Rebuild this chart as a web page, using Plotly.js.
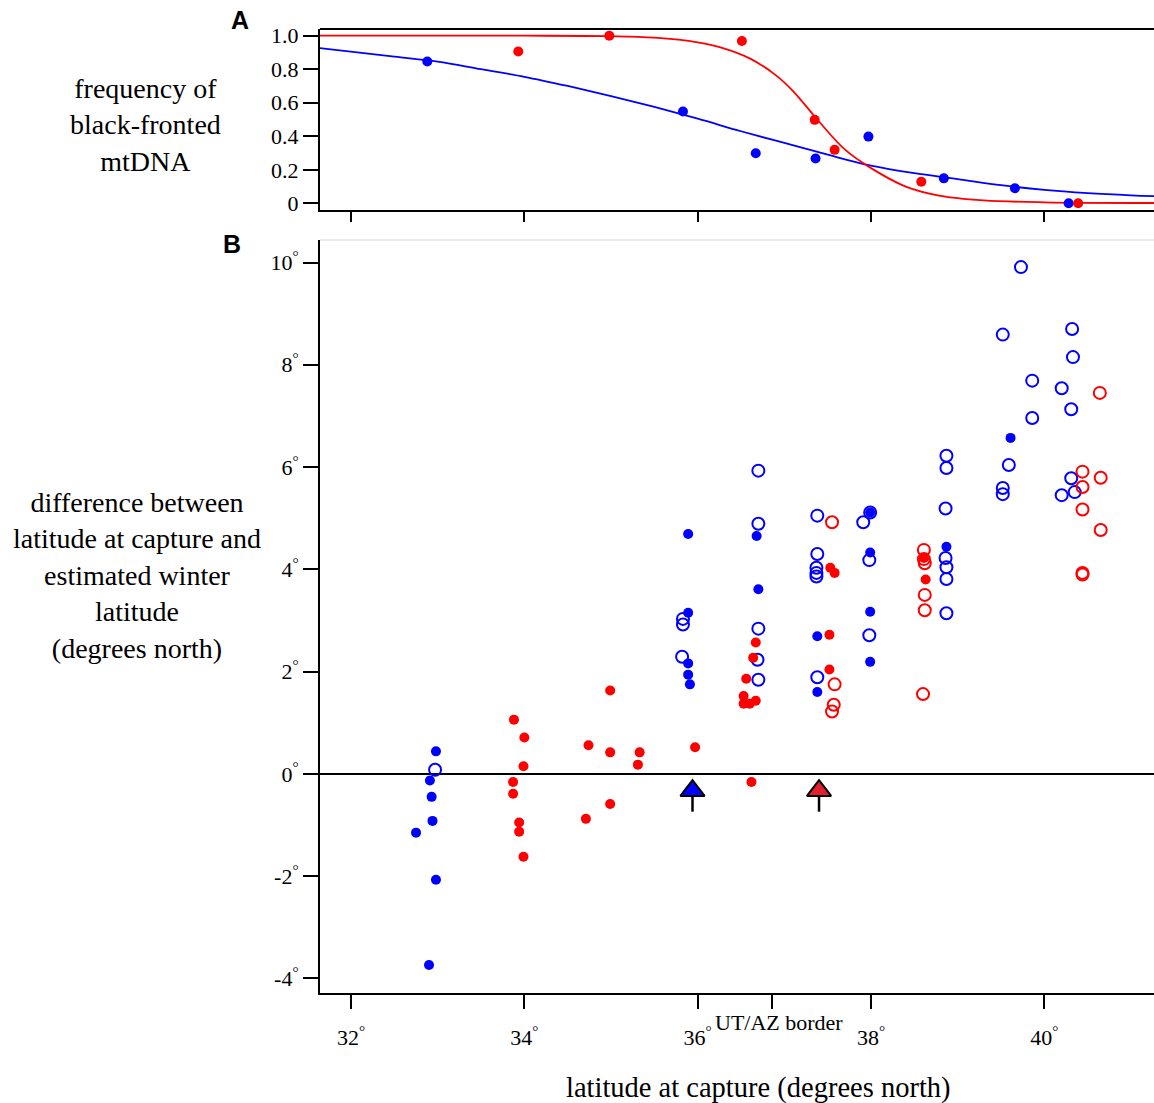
<!DOCTYPE html>
<html>
<head>
<meta charset="utf-8">
<script src="https://cdn.plot.ly/plotly-3.0.1.min.js"></script>
<style>body{margin:0;padding:0;background:#fff;} #chart{width:1154px;height:1103px;}</style>
</head>
<body>
<div id="chart"></div>
<script>
// ---------- Panel A: frequency of black-fronted mtDNA ----------
const blueFreqLat = [32.88, 35.83, 36.67, 37.36, 37.97, 38.84, 39.66, 40.28];
const blueFreq    = [0.846, 0.548, 0.299, 0.267, 0.398, 0.149, 0.090, 0.0];
const redFreqLat  = [33.93, 34.98, 36.51, 37.35, 37.58, 38.58, 40.39];
const redFreq     = [0.906, 1.0, 0.968, 0.498, 0.319, 0.129, 0.0];

// fitted clines
const blueClineLat = [31.64, 32.5, 33.0, 33.5, 34.0, 34.5, 35.0, 35.5, 36.0, 36.5, 37.0, 37.5, 38.0, 38.5, 39.0, 39.5, 40.0, 40.5, 41.0, 41.27];
const blueCline    = [0.926, 0.875, 0.845, 0.80, 0.755, 0.70, 0.64, 0.575, 0.505, 0.43, 0.36, 0.29, 0.225, 0.18, 0.145, 0.108, 0.08, 0.061, 0.048, 0.043];
const redClineLat  = [31.64, 33.0, 34.0, 35.0, 35.5, 36.0, 36.3, 36.6, 36.9, 37.1, 37.38, 37.7, 38.0, 38.4, 38.8, 39.3, 40.0, 41.27];
const redCline     = [1.0, 1.0, 1.0, 0.997, 0.988, 0.96, 0.925, 0.865, 0.765, 0.67, 0.50, 0.32, 0.21, 0.10, 0.045, 0.018, 0.006, 0.002];

// ---------- Panel B: difference between capture and winter latitude ----------
const blueFilledLat = [32.98, 32.91, 32.93, 32.94, 32.75, 32.98, 32.90, 35.89, 35.89, 35.89, 35.89, 35.91, 36.68, 36.70, 37.38, 37.38, 37.99, 37.99, 37.99, 37.99, 38.87, 39.61];
const blueFilledDev = [0.44, -0.13, -0.45, -0.92, -1.15, -2.07, -3.74, 4.69, 3.15, 2.16, 1.94, 1.75, 4.65, 3.61, 2.69, 1.60, 5.11, 4.33, 3.17, 2.19, 4.44, 6.57];

const blueOpenLat = [32.97, 35.83, 35.83, 35.82, 36.70, 36.70, 36.70, 36.69, 36.70, 37.38, 37.38, 37.37, 37.37, 37.37, 37.38, 37.91, 37.98, 37.98, 37.99,
                     38.87, 38.87, 38.86, 38.86, 38.87, 38.87, 38.87, 39.52, 39.73, 39.86, 39.86, 39.59, 39.52, 39.52, 40.32, 40.33, 40.20, 40.31, 40.31, 40.35, 40.20];
const blueOpenDev = [0.08, 3.03, 2.92, 2.29, 5.93, 4.89, 2.84, 2.23, 1.84, 5.05, 4.30, 4.03, 3.93, 3.86, 1.89, 4.92, 4.18, 2.71, 5.11,
                     6.22, 5.98, 5.19, 4.22, 4.04, 3.81, 3.14, 8.59, 9.91, 7.69, 6.96, 6.04, 5.59, 5.47, 8.70, 8.15, 7.54, 7.13, 5.78, 5.51, 5.45];

const redFilledLat = [33.88, 34.00, 33.99, 33.87, 33.87, 33.94, 33.94, 33.99, 34.74, 34.99, 34.99, 34.99, 34.71, 35.33, 35.31, 35.97,
                      36.67, 36.64, 36.56, 36.53, 36.53, 36.60, 36.67, 36.62, 37.52, 37.52, 37.53, 37.58, 38.61, 38.63];
const redFilledDev = [1.06, 0.71, 0.15, -0.16, -0.39, -0.95, -1.13, -1.62, 0.56, 1.63, 0.42, -0.59, -0.88, 0.42, 0.18, 0.52,
                      2.57, 2.27, 1.86, 1.52, 1.37, 1.37, 1.43, -0.16, 2.72, 2.04, 4.03, 3.93, 4.22, 3.80];

const redOpenLat = [37.55, 37.58, 37.57, 37.55, 38.61, 38.61, 38.62, 38.62, 38.62, 38.60, 40.64, 40.44, 40.65, 40.44, 40.44, 40.65, 40.44, 40.44];
const redOpenDev = [4.92, 1.75, 1.35, 1.22, 4.38, 4.20, 4.12, 3.50, 3.20, 1.56, 7.45, 5.91, 5.79, 5.61, 5.17, 4.77, 3.93, 3.90];

// cline centres marked by arrows
const arrowLat = [35.94, 37.40];
const arrowDev = [-0.33, -0.33];
const arrowStemTop = -0.45;
const arrowStemBottom = -0.74;
const arrowColors = ['#0000ff', '#e31e2d'];

// ticks
const xTickVals = [32, 34, 36, 36.86, 38, 40];
const xTickText = ['32<sup>°</sup>', '34<sup>°</sup>', '36<sup>°</sup>', '', '38<sup>°</sup>', '40<sup>°</sup>'];
const borderLat = 36.86;
const xTopTickVals = [32, 34, 36, 38, 40];
const yTickVals = [-4, -2, 0, 2, 4, 6, 8, 10];
const yTickText = ['-4<sup>°</sup>', '-2<sup>°</sup>', '0<sup>°</sup>', '2<sup>°</sup>', '4<sup>°</sup>', '6<sup>°</sup>', '8<sup>°</sup>', '10<sup>°</sup>'];
const fTickVals = [0, 0.2, 0.4, 0.6, 0.8, 1.0];
const fTickText = ['0', '0.2', '0.4', '0.6', '0.8', '1.0'];

const BLUE = '#0000ff', RED = '#ff0000';
const SERIF = 'Liberation Serif, Times New Roman, serif';

const stemX = [], stemY = [];
arrowLat.forEach(function (v) { stemX.push(v, v, null); stemY.push(arrowStemTop, arrowStemBottom, null); });

const traces = [
  {x: blueClineLat, y: blueCline, xaxis: 'x2', yaxis: 'y2', mode: 'lines', line: {color: BLUE, width: 1.8, shape: 'spline', smoothing: 1}, hoverinfo: 'skip'},
  {x: redClineLat, y: redCline, xaxis: 'x2', yaxis: 'y2', mode: 'lines', line: {color: RED, width: 1.8, shape: 'spline', smoothing: 1}, hoverinfo: 'skip'},
  {x: blueFreqLat, y: blueFreq, xaxis: 'x2', yaxis: 'y2', mode: 'markers', marker: {color: BLUE, size: 10}, cliponaxis: false},
  {x: redFreqLat, y: redFreq, xaxis: 'x2', yaxis: 'y2', mode: 'markers', marker: {color: RED, size: 10}, cliponaxis: false},

  {x: blueOpenLat, y: blueOpenDev, mode: 'markers', marker: {symbol: 'circle-open', color: BLUE, size: 12, line: {width: 2, color: BLUE}}},
  {x: redOpenLat, y: redOpenDev, mode: 'markers', marker: {symbol: 'circle-open', color: RED, size: 12, line: {width: 2, color: RED}}},
  {x: blueFilledLat, y: blueFilledDev, mode: 'markers', marker: {color: BLUE, size: 10}},
  {x: redFilledLat, y: redFilledDev, mode: 'markers', marker: {color: RED, size: 10}},

  {x: stemX, y: stemY, mode: 'lines', line: {color: 'black', width: 2.5}, hoverinfo: 'skip'},
  {x: arrowLat, y: arrowDev, mode: 'markers', marker: {symbol: 'triangle-up', size: 21, color: arrowColors, line: {color: 'black', width: 2}}}
];

const axisCommon = {
  showgrid: false, showline: true, linecolor: 'black', linewidth: 2,
  ticks: 'outside', tickcolor: 'black', tickwidth: 2,
  tickfont: {family: SERIF, size: 22, color: 'black'}
};

const layout = {
  width: 1154, height: 1103,
  margin: {l: 320, r: 0, t: 29, b: 110},
  paper_bgcolor: 'white', plot_bgcolor: 'white',
  showlegend: false,
  font: {family: SERIF, color: 'black'},
  xaxis: Object.assign({}, axisCommon, {
    domain: [0, 1], anchor: 'y', range: [31.642, 41.265],
    tickmode: 'array', tickvals: xTickVals, ticktext: xTickText, ticklen: 14,
    ticklabelstandoff: 10,
    zeroline: false
  }),
  xaxis2: Object.assign({}, axisCommon, {
    domain: [0, 1], anchor: 'y2', matches: 'x', range: [31.642, 41.265],
    tickmode: 'array', tickvals: xTopTickVals, showticklabels: false, ticklen: 10,
    zeroline: false
  }),
  yaxis: Object.assign({}, axisCommon, {
    domain: [0, 0.7811], anchor: 'x', range: [-4.286, 10.44],
    tickmode: 'array', tickvals: yTickVals, ticktext: yTickText, ticklen: 15,
    zeroline: true, zerolinecolor: 'black', zerolinewidth: 2
  }),
  yaxis2: Object.assign({}, axisCommon, {
    domain: [0.8122, 1], anchor: 'x2', range: [-0.04, 1.04],
    tickmode: 'array', tickvals: fTickVals, ticktext: fTickText, ticklen: 15,
    zeroline: false
  }),
  shapes: [
    {type: 'line', xref: 'x2 domain', yref: 'y2 domain', x0: 0, x1: 1, y0: 1, y1: 1, line: {color: 'black', width: 2}},
    {type: 'line', xref: 'x domain', yref: 'y domain', x0: 0, x1: 1, y0: 1, y1: 1, line: {color: '#e4e4e4', width: 1.5}}
  ],
  annotations: [
    {text: '<b>A</b>', xref: 'paper', yref: 'paper', x: -0.0959, y: 1.0093, showarrow: false,
     font: {family: 'Liberation Sans, Arial, sans-serif', size: 25, color: 'black'}, xanchor: 'center', yanchor: 'middle'},
    {text: '<b>B</b>', xref: 'paper', yref: 'paper', x: -0.1055, y: 0.777, showarrow: false,
     font: {family: 'Liberation Sans, Arial, sans-serif', size: 25, color: 'black'}, xanchor: 'center', yanchor: 'middle'},
    {text: 'frequency of<br>black-fronted<br>mtDNA', xref: 'paper', yref: 'paper', x: -0.2098, y: 0.9004, showarrow: false,
     font: {family: SERIF, size: 28, color: 'black'}, xanchor: 'center', yanchor: 'middle', align: 'center'},
    {text: 'difference between<br>latitude at capture and<br>estimated winter<br>latitude<br>(degrees north)', xref: 'paper', yref: 'paper',
     x: -0.2194, y: 0.4326, showarrow: false,
     font: {family: SERIF, size: 28, color: 'black'}, xanchor: 'center', yanchor: 'middle', align: 'center'},
    {text: 'latitude at capture (degrees north)', xref: 'paper', yref: 'paper', x: 0.5252, y: -0.0985, showarrow: false,
     font: {family: SERIF, size: 28.5, color: 'black'}, xanchor: 'center', yanchor: 'middle'},
    {text: 'UT/AZ border', xref: 'x', yref: 'paper', x: borderLat, xshift: 7, y: -0.0301, showarrow: false,
     font: {family: SERIF, size: 22, color: 'black'}, xanchor: 'center', yanchor: 'middle'}
  ]
};

Plotly.newPlot('chart', traces, layout, {staticPlot: true, displayModeBar: false});
</script>
</body>
</html>
